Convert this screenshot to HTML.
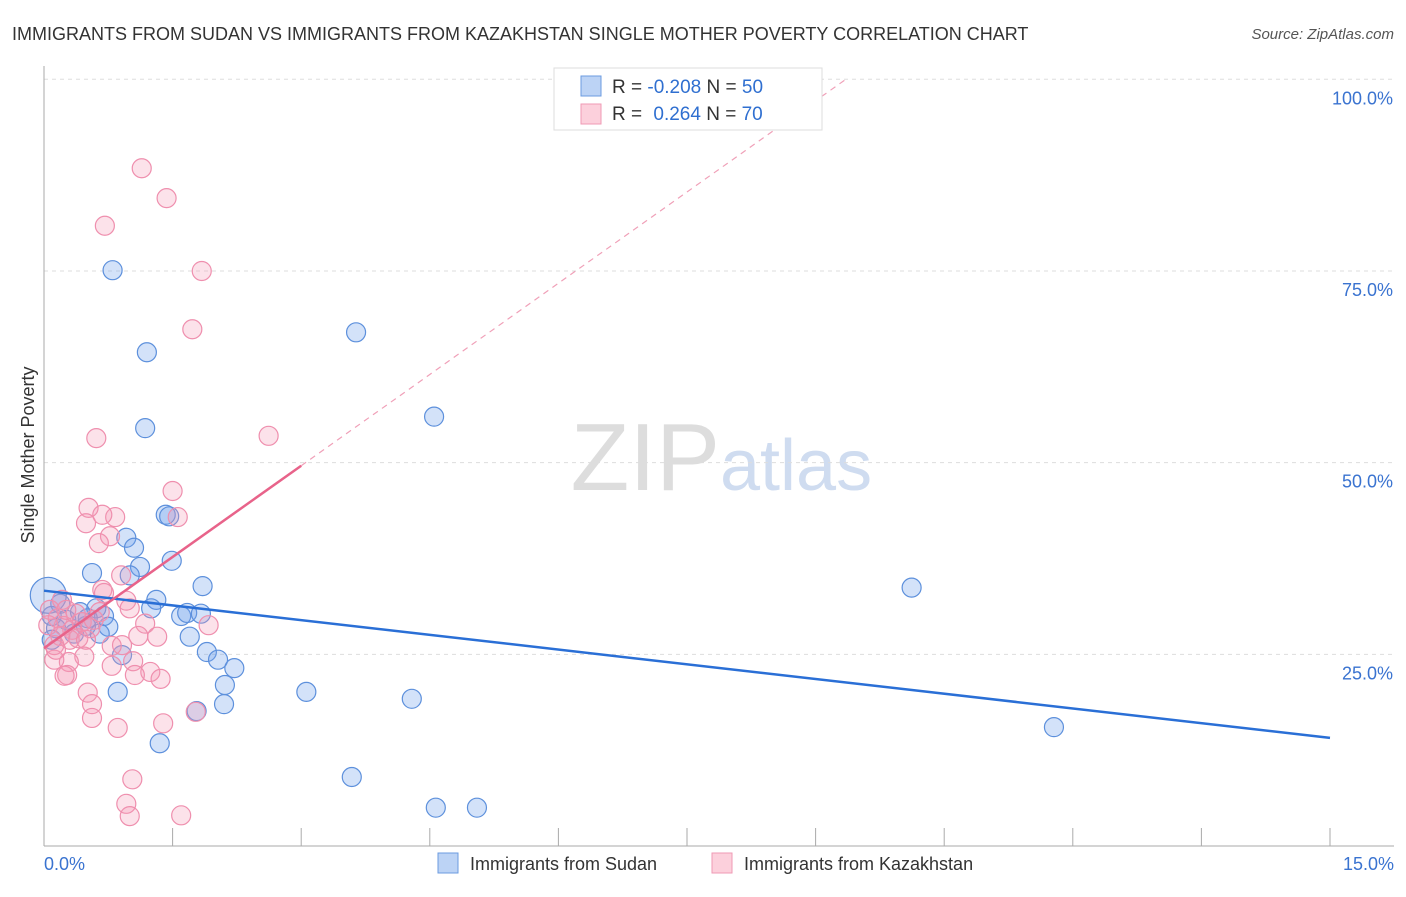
<!DOCTYPE html>
<html><head><meta charset="utf-8"><style>
body{margin:0;background:#fff;font-family:"Liberation Sans",sans-serif;}
svg text{font-family:"Liberation Sans",sans-serif;}
</style></head><body>
<svg id="chart" width="1406" height="892" xmlns="http://www.w3.org/2000/svg">
<text x="12" y="40" font-size="18" fill="#333">IMMIGRANTS FROM SUDAN VS IMMIGRANTS FROM KAZAKHSTAN SINGLE MOTHER POVERTY CORRELATION CHART</text>
<text x="1394" y="39" font-size="15" fill="#555" font-style="italic" text-anchor="end">Source: ZipAtlas.com</text>
<text x="720" y="490" font-size="96" fill="#ddd" text-anchor="end" font-family="Liberation Serif">ZIP</text>
<text x="720" y="490" font-size="72" fill="#cfdcf0">atlas</text>
<g id="grid"></g><g id="axes"></g><g id="pts"></g><g id="lines"></g>
<text transform="translate(34,455) rotate(-90)" font-size="18" fill="#333" text-anchor="middle">Single Mother Poverty</text>
<text x="44" y="870" font-size="18" fill="#3a73d0">0.0%</text>
<text x="1394" y="870" font-size="18" fill="#3a73d0" text-anchor="end">15.0%</text>
<g>
<rect x="554" y="68" width="268" height="62" fill="#fff" stroke="#ddd"/>
<rect x="581" y="76" width="20" height="20" fill="#bcd3f5" stroke="#6b9be0"/>
<rect x="581" y="104" width="20" height="20" fill="#fcd0dc" stroke="#ef9ab4"/>
<text x="612" y="93" font-size="19" fill="#333">R = <tspan fill="#2f6fd0">-0.208</tspan>   N = <tspan fill="#2f6fd0">50</tspan></text>
<text x="612" y="120" font-size="19" fill="#333">R =  <tspan fill="#2f6fd0" dx="6">0.264</tspan>   N = <tspan fill="#2f6fd0">70</tspan></text>
</g>
<g>
<rect x="438" y="853" width="20" height="20" fill="#bcd3f5" stroke="#6b9be0"/>
<text x="470" y="870" font-size="18" fill="#333">Immigrants from Sudan</text>
<rect x="712" y="853" width="20" height="20" fill="#fcd0dc" stroke="#ef9ab4"/>
<text x="744" y="870" font-size="18" fill="#333">Immigrants from Kazakhstan</text>
</g>
</svg>
<script>
const yTicks=[25,50,75,100];
const yTickLabels=["25.0%","50.0%","75.0%","100.0%"];
const xTicks=[0,1.5,3,4.5,6,7.5,9,10.5,12,13.5,15];
const sudanX=[0.80,1.20,3.64,4.55,1.18,1.42,1.46,0.96,1.05,0.56,1.12,1.00,1.49,1.85,10.12,1.31,1.25,0.61,0.19,0.70,0.49,0.75,1.60,1.67,1.83,1.70,0.65,1.90,2.03,2.22,0.91,2.11,2.10,0.86,1.78,3.06,4.29,1.35,3.59,11.78,4.57,5.05,0.09,0.14,0.26,0.42,0.35,0.09,0.51];
const sudanY=[75.1,64.4,67.0,56.0,54.5,43.2,43.0,40.2,38.9,35.6,36.4,35.3,37.2,33.9,33.7,32.1,31.0,31.0,31.6,30.0,28.7,28.6,30.0,30.4,30.3,27.3,27.7,25.3,24.3,23.2,24.9,21.0,18.5,20.1,17.6,20.1,19.2,13.4,9.0,15.5,5.0,5.0,30.0,28.4,29.5,30.5,27.7,26.9,29.7];
const kazX=[1.14,1.43,0.71,1.84,1.73,2.62,0.61,1.50,0.52,0.83,0.68,0.49,1.56,0.77,0.64,0.90,0.68,0.70,0.96,1.00,1.18,1.92,1.10,1.32,0.79,0.91,1.04,0.47,0.29,0.12,1.24,1.36,0.79,0.27,0.24,1.06,0.51,0.56,0.56,0.86,1.39,1.77,1.03,0.96,1.00,1.60,0.07,0.16,0.23,0.33,0.37,0.44,0.54,0.19,0.30,0.12,0.40,0.58,0.21,0.65,0.05,0.26,0.49,0.14];
const kazY=[88.4,84.5,80.9,75.0,67.4,53.5,53.2,46.3,44.1,42.9,43.2,42.1,42.9,40.4,39.5,35.3,33.4,33.0,32.0,31.0,29.0,28.8,27.4,27.3,26.1,26.2,24.1,24.7,24.0,24.3,22.7,21.8,23.5,22.3,22.2,22.3,20.0,18.5,16.7,15.4,16.0,17.5,8.7,5.5,3.9,4.0,30.8,29.7,28.7,28.2,30.3,29.2,28.4,27.4,26.9,26.2,27.1,29.5,32.1,30.5,28.8,30.8,26.9,25.6];
const sudanTrend=[33.3,14.1];
const kazTrend=[25.8,49.6];
const X=v=>44+v/15*1286, Y=v=>846-v/100*766.7;
const NS="http://www.w3.org/2000/svg";
function mk(parent,tag,attrs){const e=document.createElementNS(NS,tag);for(const k in attrs)e.setAttribute(k,attrs[k]);document.getElementById(parent).appendChild(e);return e;}
yTicks.forEach((t,i)=>{
 const l=mk('grid','line',{x1:44,x2:1394,y1:Y(t),y2:Y(t),stroke:'#ddd','stroke-dasharray':'4,4'});
 
 
 const tx=mk('grid','text',{x:1393,y:Y(t)+25,'font-size':18,fill:'#3a73d0','text-anchor':'end'});
 tx.textContent=yTickLabels[i];
 
 
});
const ya=mk('axes','line',{x1:44,x2:44,y1:66,y2:846,stroke:'#aaa'});


const xa=mk('axes','line',{x1:44,x2:1394,y1:846,y2:846,stroke:'#aaa'});


xTicks.forEach(t=>{const l=mk('axes','line',{x1:X(t),x2:X(t),y1:828,y2:846,stroke:'#aaa'});
 
 });
sudanX.forEach((v,i)=>{const c=mk('pts','circle',{cx:X(v),cy:Y(sudanY[i]),r:9.5,fill:'rgba(110,160,235,0.3)',stroke:'#5d90dc','stroke-width':1.2});
 
 });
const big=mk('pts','circle',{cx:X(0.05),cy:Y(32.7),r:18,fill:'rgba(110,160,235,0.3)',stroke:'#5d90dc','stroke-width':1.2});


kazX.forEach((v,i)=>{const c=mk('pts','circle',{cx:X(v),cy:Y(kazY[i]),r:9.5,fill:'rgba(245,150,180,0.28)',stroke:'#ef8fae','stroke-width':1.2});
 
 });
const bl=mk('lines','line',{x1:X(0),y1:Y(sudanTrend[0]),x2:X(15),y2:Y(sudanTrend[1]),stroke:'#2a6fd6','stroke-width':2.5});


const slope=(kazTrend[1]-kazTrend[0])/3, xEnd=(100-kazTrend[0])/slope;
const pl=mk('lines','line',{x1:X(0),y1:Y(kazTrend[0]),x2:X(3),y2:Y(kazTrend[1]),stroke:'#e8638a','stroke-width':2.5});


const pd=mk('lines','line',{x1:X(3),y1:Y(kazTrend[1]),x2:X(xEnd),y2:Y(100),stroke:'#f0a0b8','stroke-width':1.2,'stroke-dasharray':'6,5'});


</script>
</body></html>
